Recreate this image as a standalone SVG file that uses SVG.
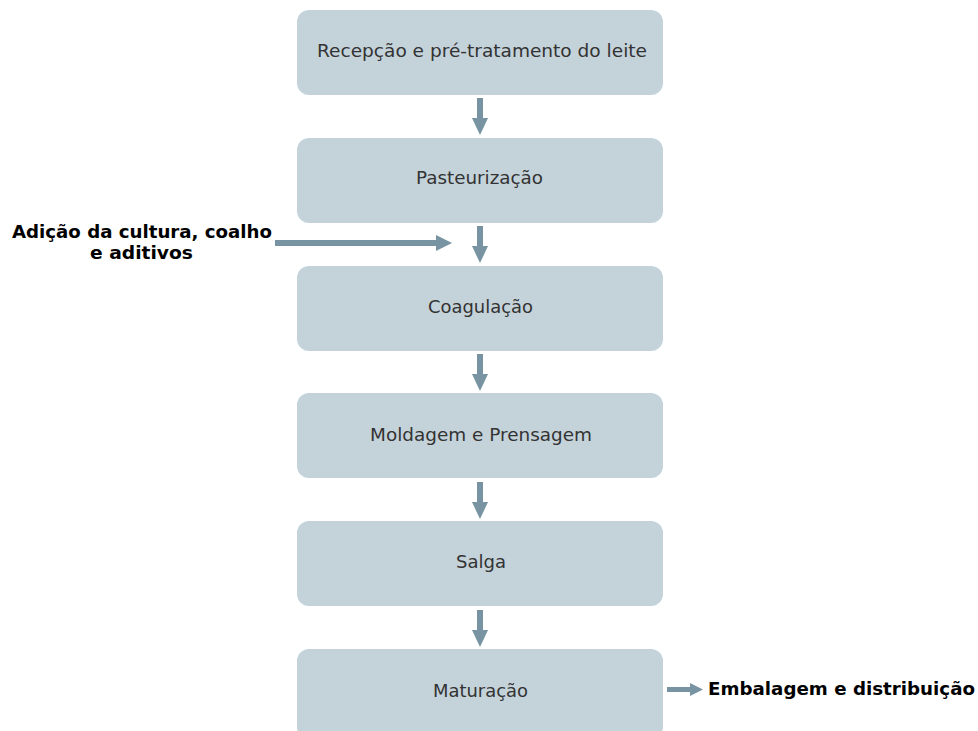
<svg xmlns="http://www.w3.org/2000/svg" width="978" height="731" viewBox="0 0 978 731">
<style>
.box{fill:#c4d2da;}
.t{font-family:"DejaVu Sans",Verdana,sans-serif;font-size:17.5px;fill:#333;}
.b{font-family:"DejaVu Sans",Verdana,sans-serif;font-size:17.5px;font-weight:bold;fill:#000;}
.ar{fill:#7893a2;}
</style>
<rect width="978" height="731" fill="#fff"/>
<g id="n1"><rect class="box" x="297" y="10" width="366" height="85" rx="12"/><text class="t" x="317" y="57" textLength="330" lengthAdjust="spacingAndGlyphs">Recepção e pré-tratamento do leite</text></g>
<g id="n2"><rect class="box" x="297" y="138" width="366" height="85" rx="12"/><text class="t" x="416" y="184" textLength="127" lengthAdjust="spacingAndGlyphs">Pasteurização</text></g>
<g id="n3"><rect class="box" x="297" y="266" width="366" height="85" rx="12"/><text class="t" x="428" y="313" textLength="105" lengthAdjust="spacingAndGlyphs">Coagulação</text></g>
<g id="n4"><rect class="box" x="297" y="393" width="366" height="85" rx="12"/><text class="t" x="370" y="441" textLength="222" lengthAdjust="spacingAndGlyphs">Moldagem e Prensagem</text></g>
<g id="n5"><rect class="box" x="297" y="521" width="366" height="85" rx="12"/><text class="t" x="456" y="568" textLength="50" lengthAdjust="spacingAndGlyphs">Salga</text></g>
<g id="n6"><rect class="box" x="297" y="649" width="366" height="90" rx="12"/><text class="t" x="433" y="697" textLength="95" lengthAdjust="spacingAndGlyphs">Maturação</text></g>
<g id="lbl-in"><text class="b" x="12" y="238" textLength="260" lengthAdjust="spacingAndGlyphs">Adição da cultura, coalho</text><text class="b" x="90" y="259" textLength="103" lengthAdjust="spacingAndGlyphs">e aditivos</text></g>
<g id="lbl-out"><text class="b" x="708" y="695" textLength="267" lengthAdjust="spacingAndGlyphs">Embalagem e distribuição</text></g>
<g id="connectors">
<polygon class="ar" points="477,98 483,98 483,118 488,118 480,135 472,118 477,118"/>
<polygon class="ar" points="477,226 483,226 483,246 488,246 480,263 472,246 477,246"/>
<polygon class="ar" points="477,354 483,354 483,374 488,374 480,391 472,374 477,374"/>
<polygon class="ar" points="477,482 483,482 483,502 488,502 480,519 472,502 477,502"/>
<polygon class="ar" points="477,610 483,610 483,630 488,630 480,647 472,630 477,630"/>
<polygon class="ar" points="275,240 436,240 436,235 452,243 436,251 436,246 275,246"/>
<polygon class="ar" points="667,687 690,687 690,683 703,689.5 690,696 690,692 667,692"/>
</g>
</svg>
